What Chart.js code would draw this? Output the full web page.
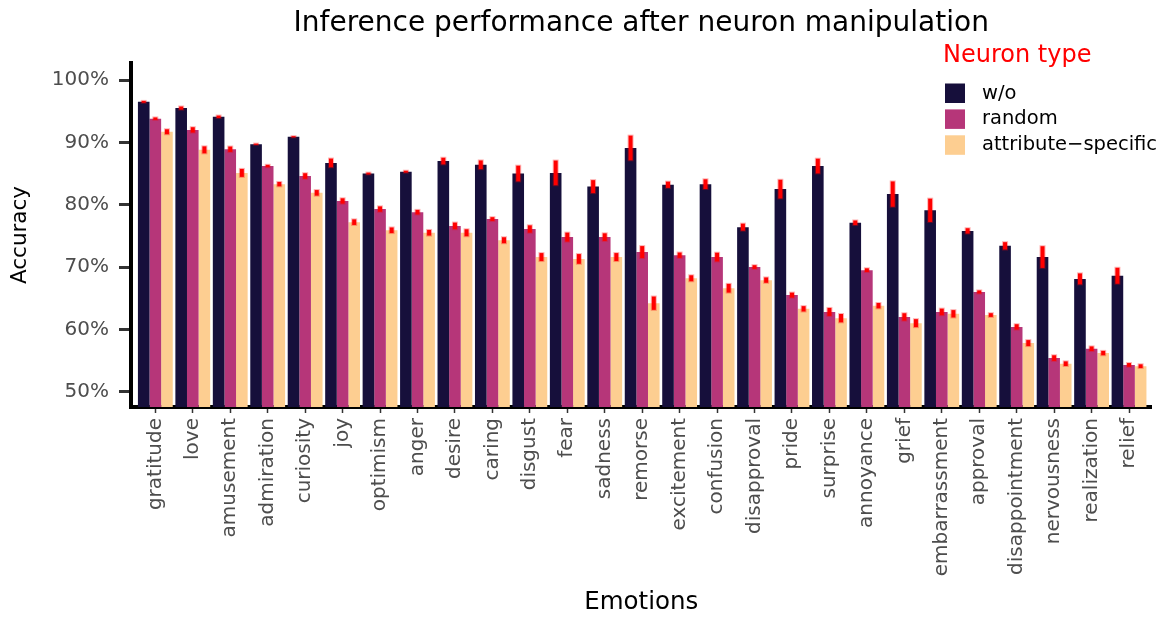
<!DOCTYPE html>
<html><head><meta charset="utf-8">
<script src="https://cdn.jsdelivr.net/npm/chart.js@4.4.1/dist/chart.umd.min.js"></script>
<style>html,body{margin:0;padding:0;background:#fff}#wrap{width:1166px;height:619px}</style>
</head><body><div id="wrap"><canvas id="c" width="1166" height="619"></canvas></div>
<script>
const chartTitle = 'Inference performance after neuron manipulation';
const legendTitle = 'Neuron type';
const categories = ['gratitude','love','amusement','admiration','curiosity','joy','optimism','anger','desire','caring','disgust','fear','sadness','remorse','excitement','confusion','disapproval','pride','surprise','annoyance','grief','embarrassment','approval','disappointment','nervousness','realization','relief'];
const seriesNames = ['w/o','random','attribute\u2212specific'];
const woValues   = [96.5, 95.5, 94.1, 89.7, 90.9, 86.7, 85.0, 85.3, 87.0, 86.4, 85.0, 85.1, 82.9, 89.1, 83.2, 83.3, 76.4, 82.5, 86.2, 77.1, 81.7, 79.1, 75.8, 73.4, 71.6, 68.1, 68.6];
const randomValues = [93.8, 92.0, 88.9, 86.2, 84.6, 80.6, 79.3, 78.8, 76.6, 77.7, 76.1, 74.8, 74.8, 72.4, 71.9, 71.6, 70.0, 65.5, 62.8, 69.5, 62.0, 62.8, 66.0, 60.4, 55.4, 56.9, 54.3];
const attrValues = [91.7, 88.8, 85.1, 83.3, 81.9, 77.2, 75.9, 75.5, 75.5, 74.3, 71.6, 71.3, 71.6, 64.2, 68.2, 66.6, 67.9, 63.3, 61.8, 63.8, 61.0, 62.5, 62.3, 57.8, 54.5, 56.2, 54.1];
const woErrors   = [0.15, 0.25, 0.2, 0.1, 0.1, 0.7, 0.15, 0.15, 0.53, 0.7, 1.26, 1.98, 1.04, 1.98, 0.5, 0.78, 0.56, 1.5, 1.18, 0.37, 2.03, 1.87, 0.43, 0.59, 1.74, 0.88, 1.28];
const randomErrors = [0.2, 0.43, 0.43, 0.2, 0.45, 0.43, 0.43, 0.37, 0.53, 0.3, 0.59, 0.72, 0.61, 0.96, 0.43, 0.7, 0.3, 0.4, 0.64, 0.3, 0.59, 0.53, 0.25, 0.43, 0.45, 0.37, 0.3];
const attrErrors = [0.4, 0.56, 0.64, 0.35, 0.45, 0.45, 0.45, 0.45, 0.56, 0.48, 0.64, 0.78, 0.64, 1.07, 0.48, 0.7, 0.43, 0.43, 0.67, 0.43, 0.64, 0.59, 0.3, 0.48, 0.37, 0.35, 0.3];
const yTickValues = [50, 60, 70, 80, 90, 100];
const seriesColors = ['#160F3B', '#B63679', '#FDCE91'];

const FONT = 'DejaVu Sans';
Chart.defaults.font.family = FONT;

const valueSets = [woValues, randomValues, attrValues];
const errorSets = [woErrors, randomErrors, attrErrors];

const datasets = seriesNames.map((name, s) => ({
  label: name,
  data: valueSets[s].map((v, i) => ({x: i, y: v})),
  errors: errorSets[s],
  backgroundColor: seriesColors[s],
  borderWidth: 0,
  categoryPercentage: 0.93,
  barPercentage: 1.0
}));

const bgPlugin = {
  id: 'bg',
  beforeDraw(chart) {
    const ctx = chart.ctx;
    ctx.save();
    ctx.fillStyle = '#fff';
    ctx.fillRect(0, 0, chart.width, chart.height);
    ctx.restore();
  }
};

const errorBarPlugin = {
  id: 'errorBars',
  afterDatasetsDraw(chart) {
    const ctx = chart.ctx;
    const yScale = chart.scales.y;
    ctx.save();
    chart.data.datasets.forEach((ds, di) => {
      const meta = chart.getDatasetMeta(di);
      meta.data.forEach((el, i) => {
        const v = ds.data[i].y, e = ds.errors[i];
        const y1 = yScale.getPixelForValue(v + e);
        const y2 = yScale.getPixelForValue(v - e);
        ctx.lineCap = 'butt';
        ctx.strokeStyle = 'rgba(255,0,0,0.3)';
        ctx.lineWidth = 6;
        ctx.beginPath(); ctx.moveTo(el.x, y1 - 1); ctx.lineTo(el.x, y2 + 1); ctx.stroke();
        ctx.strokeStyle = '#FF0000';
        ctx.lineWidth = 4;
        ctx.beginPath(); ctx.moveTo(el.x, y1); ctx.lineTo(el.x, y2); ctx.stroke();
      });
    });
    ctx.restore();
  }
};

const titleLegendPlugin = {
  id: 'titleLegend',
  afterDraw(chart) {
    const ctx = chart.ctx;
    const ca = chart.chartArea;
    ctx.save();
    ctx.fillStyle = '#000';
    ctx.font = '28px "' + FONT + '"';
    ctx.textAlign = 'center';
    ctx.textBaseline = 'alphabetic';
    ctx.fillText(chartTitle, (ca.left + ca.right) / 2, 31);
    // legend
    ctx.textAlign = 'left';
    ctx.fillStyle = '#FF0000';
    ctx.font = '24px "' + FONT + '"';
    ctx.fillText(legendTitle, 943, 62);
    ctx.font = '19.5px "' + FONT + '"';
    ctx.textBaseline = 'middle';
    chart.data.datasets.forEach((ds, i) => {
      const top = 83.5 + i * 25.9;
      ctx.fillStyle = ds.backgroundColor;
      ctx.fillRect(945, top, 20, 19.5);
      ctx.fillStyle = '#000';
      ctx.fillText(ds.label, 982, top + 10);
    });
    ctx.restore();
  }
};

new Chart(document.getElementById('c'), {
  type: 'bar',
  data: { datasets },
  options: {
    responsive: false,
    animation: false,
    devicePixelRatio: 1,
    layout: { padding: { left: 0, top: 63, right: 14.5, bottom: 0 } },
    plugins: { legend: { display: false }, title: { display: false }, tooltip: { enabled: false } },
    scales: {
      x: {
        type: 'linear',
        bounds: 'data',
        offset: false,
        min: -0.65,
        max: 26.6,
        z: 1,
        afterBuildTicks(scale) { scale.ticks = categories.map((c, i) => ({ value: i })); },
        afterFit(scale) { scale.height = 212; },
        grid: { offset: false, drawOnChartArea: false, drawTicks: true, tickLength: 6, tickWidth: 1.5, tickColor: '#333333' },
        border: { display: true, color: '#000', width: 4 },
        ticks: {
          autoSkip: false, maxRotation: 90, minRotation: 90, padding: 5,
          color: '#4D4D4D', font: { size: 20 },
          callback: (v) => categories[v] !== undefined ? categories[v] : ''
        },
        title: { display: true, text: 'Emotions', color: '#000', font: { size: 24.5 }, padding: { top: 0, bottom: 2 } }
      },
      y: {
        min: 47.55,
        max: 102.73,
        z: 1,
        afterBuildTicks(scale) { scale.ticks = yTickValues.map(v => ({ value: v })); },
        afterFit(scale) { scale.width = 131; },
        grid: { drawOnChartArea: false, drawTicks: true, tickLength: 12, tickWidth: 3, tickColor: '#333333' },
        border: { display: true, color: '#000', width: 4 },
        ticks: { color: '#4D4D4D', font: { size: 20 }, padding: 10, callback: (v) => v + '%' },
        title: { display: true, text: 'Accuracy', color: '#000', font: { size: 21.5 }, padding: { top: 8, bottom: 0 } }
      }
    }
  },
  plugins: [bgPlugin, errorBarPlugin, titleLegendPlugin]
});
</script>
</body></html>
